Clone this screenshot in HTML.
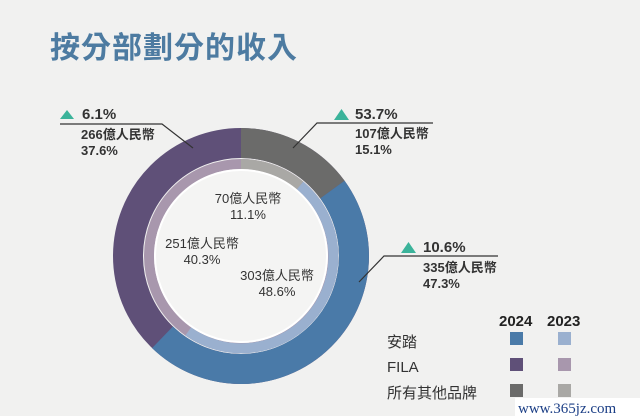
<!DOCTYPE html>
<html><head><meta charset="utf-8"><style>
html,body{margin:0;padding:0;background:#f1f1f0;}
svg{display:block;font-family:"Liberation Sans","Noto Sans CJK TC",sans-serif;}
</style></head><body>
<svg width="640" height="416" viewBox="0 0 640 416" xmlns="http://www.w3.org/2000/svg">
<rect width="640" height="416" fill="#f1f1f0"/>
<text x="50" y="58" font-size="30" font-weight="bold" fill="#4d7ba1" font-family="'Noto Sans CJK TC',sans-serif" letter-spacing="1">按分部劃分的收入</text>
<g transform="translate(241,256)">
<g fill="none" stroke-width="30">
<circle r="113" stroke="#5f5078"/>
<path d="M0,-113 A113,113 0 0 1 91.4,-66.4" stroke="#6b6b6a"/>
<path d="M91.4,-66.4 A113,113 0 0 1 -78.5,81.3" stroke="#4a7aa8"/>
</g>
<g fill="none" stroke-width="10">
<circle r="92" stroke="#a897ad"/>
<path d="M0,-92 A92,92 0 0 1 59.1,-70.5" stroke="#a9a8a5"/>
<path d="M59.1,-70.5 A92,92 0 0 1 -52.8,75.4" stroke="#9ab0cf"/>
</g>
<circle r="86" fill="#f4f4f3" stroke="#ffffff" stroke-width="2"/>
</g>
<g font-size="13" fill="#333" text-anchor="middle">
<text x="248" y="203">70億人民幣</text>
<text x="248" y="219">11.1%</text>
<text x="202" y="248">251億人民幣</text>
<text x="202" y="264">40.3%</text>
<text x="277" y="280">303億人民幣</text>
<text x="277" y="296">48.6%</text>
</g>
<g stroke="#333" stroke-width="1.2" fill="none">
<polyline points="60,124 162,124 193,148"/>
<polyline points="433,123 317,123 293,148"/>
<polyline points="498,256 384,256 359,282"/>
</g>
<g fill="#3bb39a">
<polygon points="60,119 67,110 74,119"/>
<polygon points="334,120 341.5,109 349,120"/>
<polygon points="401,253 408.5,242 416,253"/>
</g>
<g fill="#333" font-weight="bold">
<text x="82" y="119" font-size="15">6.1%</text>
<text x="81" y="139" font-size="13">266億人民幣</text>
<text x="81" y="155" font-size="13">37.6%</text>
<text x="355" y="119" font-size="15">53.7%</text>
<text x="355" y="138" font-size="13">107億人民幣</text>
<text x="355" y="154" font-size="13">15.1%</text>
<text x="423" y="252" font-size="15">10.6%</text>
<text x="423" y="272" font-size="13">335億人民幣</text>
<text x="423" y="288" font-size="13">47.3%</text>
</g>
<g font-weight="bold" font-size="15" fill="#222">
<text x="499" y="326">2024</text>
<text x="547" y="326">2023</text>
</g>
<g font-size="15" fill="#333">
<text x="387" y="347">安踏</text>
<text x="387" y="372">FILA</text>
<text x="387" y="398">所有其他品牌</text>
</g>
<rect x="510" y="332" width="13" height="13" fill="#4a7aa8"/>
<rect x="558" y="332" width="13" height="13" fill="#9ab0cf"/>
<rect x="510" y="358" width="13" height="13" fill="#5f5078"/>
<rect x="558" y="358" width="13" height="13" fill="#a897ad"/>
<rect x="510" y="384" width="13" height="13" fill="#6b6b6a"/>
<rect x="558" y="384" width="13" height="13" fill="#a9a8a5"/>
<rect x="515" y="398" width="125" height="18" fill="#ffffff"/>
<text x="518" y="413" font-size="15" fill="#1c3f86" font-family="'Liberation Serif',serif">www.365jz.com</text>
</svg>
</body></html>
